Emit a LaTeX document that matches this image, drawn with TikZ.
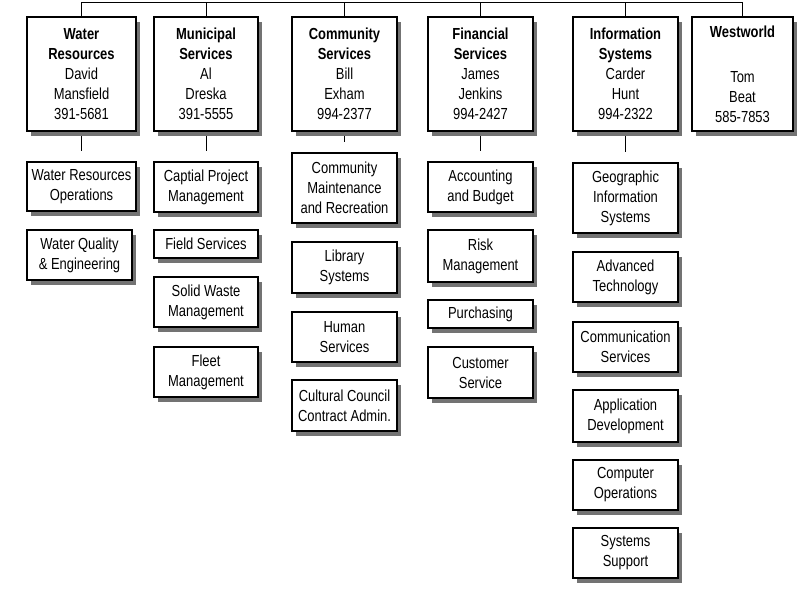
\documentclass[tikz,border=0pt]{standalone}
\usepackage{fontspec}
\setmainfont{Liberation Sans}[FakeStretch=0.81]
\usetikzlibrary{shadows,backgrounds,calc}
\begin{document}
\begin{tikzpicture}[x=1pt,y=-1pt,
  box/.style={draw=black, line width=1.2pt, fill=white, inner sep=0pt, align=center,
    font=\fontsize{16}{20}\selectfont,
    drop shadow={shadow xshift=4pt, shadow yshift=-5pt, fill=black!55, opacity=1}},
  head/.style={box, minimum height=114pt},
  link/.style={draw=black, line width=1pt}]
\begin{scope}[on background layer]
\fill[white] (0,0) rectangle (798,589);
\end{scope}
\useasboundingbox (0,0) rectangle (798,589);

% heads
\node[head, minimum width=109pt] (W) at (81.5,74) {\textbf{Water}\\\textbf{Resources}\\David\\Mansfield\\391-5681};
\node[head, minimum width=104pt] (M) at (206,74) {\textbf{Municipal}\\\textbf{Services}\\Al\\Dreska\\391-5555};
\node[head, minimum width=105pt] (C) at (344.5,74) {\textbf{Community}\\\textbf{Services}\\Bill\\Exham\\994-2377};
\node[head, minimum width=105pt] (F) at (480.5,74) {\textbf{Financial}\\\textbf{Services}\\James\\Jenkins\\994-2427};
\node[head, minimum width=105pt] (I) at (625.5,74) {\textbf{Information}\\\textbf{Systems}\\Carder\\Hunt\\994-2322};
\node[head, minimum width=101pt] (WW) at (742.5,74) {\textbf{Westworld}\\[25pt]Tom\\Beat\\585-7853};

% Water Resources
\node[box, minimum width=109pt, minimum height=49pt] (W1) at (81.5,186.5) {Water Resources\\Operations};
\node[box, minimum width=105pt, minimum height=50pt] (W2) at (79.5,255) {Water Quality\\\& Engineering};
% Municipal
\node[box, minimum width=104pt, minimum height=50pt] (M1) at (206,187) {Captial Project\\Management};
\node[box, minimum width=104pt, minimum height=28pt] (M2) at (206,244) {Field Services};
\node[box, minimum width=104pt, minimum height=50pt] (M3) at (206,302) {Solid Waste\\Management};
\node[box, minimum width=104pt, minimum height=50pt] (M4) at (206,372) {Fleet\\Management};
% Community
\node[box, minimum width=105pt, minimum height=70pt] (C1) at (344.5,188) {Community\\Maintenance\\and Recreation};
\node[box, minimum width=105pt, minimum height=51pt] (C2) at (344.5,267.5) {Library\\Systems};
\node[box, minimum width=105pt, minimum height=50pt] (C3) at (344.5,337) {Human\\Services};
\node[box, minimum width=105pt, minimum height=51pt] (C4) at (344.5,405.5) {Cultural Council\\Contract Admin.};
% Financial
\node[box, minimum width=105pt, minimum height=50pt] (F1) at (480.5,187) {Accounting\\and Budget};
\node[box, minimum width=105pt, minimum height=52pt] (F2) at (480.5,256) {Risk\\Management};
\node[box, minimum width=105pt, minimum height=28pt] (F3) at (480.5,314) {Purchasing};
\node[box, minimum width=105pt, minimum height=51pt] (F4) at (480.5,372.5) {Customer\\Service};
% Information Systems
\node[box, minimum width=105pt, minimum height=70pt] (I1) at (625.5,198) {Geographic\\Information\\Systems};
\node[box, minimum width=105pt, minimum height=50pt] (I2) at (625.5,277) {Advanced\\Technology};
\node[box, minimum width=105pt, minimum height=50pt] (I3) at (625.5,347) {Communication\\Services};
\node[box, minimum width=105pt, minimum height=52pt] (I4) at (625.5,416) {Application\\Development};
\node[box, minimum width=105pt, minimum height=50pt] (I5) at (625.5,485) {Computer\\Operations};
\node[box, minimum width=105pt, minimum height=50pt] (I6) at (625.5,553) {Systems\\Support};

\coordinate (bus) at (0,2);
\coordinate (W1t) at ($(W1.north)+(0pt,10pt)$);
\coordinate (M1t) at ($(M1.north)+(0pt,10pt)$);
\coordinate (C1t) at ($(C1.north)+(0pt,10pt)$);
\coordinate (F1t) at ($(F1.north)+(0pt,10pt)$);
\coordinate (I1t) at ($(I1.north)+(0pt,10pt)$);

\begin{scope}[on background layer]
\draw[link] (W.north) |- (WW.north |- bus) -- (WW.north);
\draw[link] (M.north) -- (M.north |- bus);
\draw[link] (C.north) -- (C.north |- bus);
\draw[link] (F.north) -- (F.north |- bus);
\draw[link] (I.north) -- (I.north |- bus);
\draw[link] (W.south) -- (W1t);
\draw[link] (M.south) -- (M1t);
\draw[link] (C.south) -- (C1t);
\draw[link] (F.south) -- (F1t);
\draw[link] (I.south) -- (I1t);
\end{scope}
\end{tikzpicture}
\end{document}
